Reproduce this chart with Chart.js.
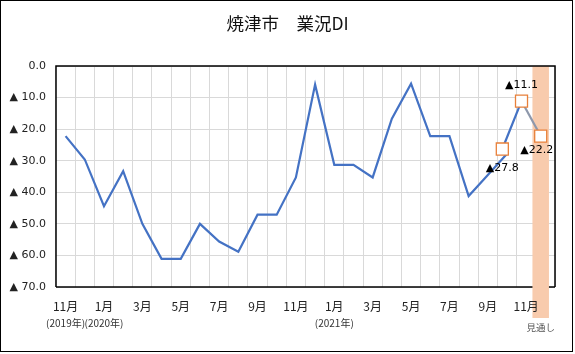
<!DOCTYPE html>
<html><head><meta charset="utf-8">
<script src="https://cdn.jsdelivr.net/npm/chart.js@4/dist/chart.umd.min.js"></script>
<style>html,body{margin:0;padding:0;background:#fff}#wrap{width:575px;height:354px;position:relative}</style>
</head><body><div id="wrap"><canvas id="c" width="575" height="354"></canvas></div>
<script>
// Categories: Nov 2019 .. Dec 2021 (Dec 2021 = forecast / 見通し)
const categories = ['11月','12月',
  '1月','2月','3月','4月','5月','6月','7月','8月','9月','10月','11月','12月',
  '1月','2月','3月','4月','5月','6月','7月','8月','9月','10月','11月','12月'];
const yearLabels = {0:'(2019年)', 2:'(2020年)', 14:'(2021年)'};
const forecastLabel = '見通し';
// 業況DI (negative values shown with ▲)
const businessDI = [-22.2,-29.6,-44.4,-33.3,-50.0,-61.1,-61.1,-50.0,-55.6,-58.8,-47.1,-47.1,-35.3,
  -5.9,-31.3,-31.3,-35.3,-16.7,-5.6,-22.2,-22.2,-41.2,-34.5,-27.8];
// recent points (Oct, Nov 2021 and Dec 2021 forecast)
const recentIndex = [23, 24, 25];
const recentDI = [-26.3, -11.1, -22.2];
const recentLabelValues = [-27.8, -11.1, -22.2];
const yMin = -70, yMax = 0, yStep = 10;

const fmt = v => v === 0 ? '0.0' : '▲ ' + Math.abs(v).toFixed(1);
const lblFmt = v => '▲' + Math.abs(v).toFixed(1);
const FONT = "'Meiryo','Noto Sans CJK JP',sans-serif";
const NUMFONT = "'DejaVu Sans','Noto Sans CJK JP',sans-serif";
Chart.defaults.font.family = FONT;
Chart.defaults.color = '#333';

const extras = {
  id: 'extras',
  beforeDraw(chart) {
    const {ctx, chartArea: a, scales: {x2}} = chart;
    const fi = categories.length - 1;
    const l = x2.getPixelForValue(fi - 0.43), r = x2.getPixelForValue(fi + 0.43);
    ctx.save();
    ctx.fillStyle = '#f8cbad';
    ctx.fillRect(l, a.bottom, r - l, 318 - a.bottom);
    ctx.restore();
  },
  beforeDatasetsDraw(chart) {
    const {ctx, chartArea: a, scales: {x2}} = chart;
    const fi = categories.length - 1;
    const l = x2.getPixelForValue(fi - 0.43), r = x2.getPixelForValue(fi + 0.43);
    ctx.save();
    ctx.strokeStyle = '#000'; ctx.lineWidth = 1.5;
    ctx.beginPath(); ctx.moveTo(a.left, a.bottom); ctx.lineTo(a.right, a.bottom); ctx.stroke();
    ctx.fillStyle = '#f8cbad';
    ctx.fillRect(l, a.top, r - l, a.bottom - a.top + 1);
    ctx.beginPath();
    ctx.moveTo(a.left, a.bottom); ctx.lineTo(a.left, a.top); ctx.lineTo(a.right, a.top); ctx.lineTo(a.right, a.bottom);
    ctx.stroke();
    ctx.restore();
  },
  afterDatasetsDraw(chart) {
    const {ctx} = chart;
    const meta = chart.getDatasetMeta(0);
    const offs = [[0, 19], [0, -16], [-4, 14]];
    ctx.save();
    ctx.font = '11px ' + NUMFONT; ctx.fillStyle = '#000';
    ctx.textAlign = 'center'; ctx.textBaseline = 'middle';
    meta.data.forEach((p, i) => {
      ctx.fillText(lblFmt(recentLabelValues[i]), p.x + offs[i][0], p.y + offs[i][1]);
    });
    ctx.restore();
  },
  afterDraw(chart) {
    const {ctx, scales: {x, x2}} = chart;
    ctx.save();
    ctx.fillStyle = '#333'; ctx.textAlign = 'center'; ctx.textBaseline = 'middle';
    ctx.font = '10px ' + FONT;
    Object.keys(yearLabels).forEach(k => {
      ctx.fillText(yearLabels[k], x.getPixelForValue(+k), 323);
    });
    ctx.font = '9.5px ' + FONT; ctx.fillStyle = '#555';
    ctx.fillText(forecastLabel, x2.getPixelForValue(categories.length - 1), 327);
    ctx.strokeStyle = '#000'; ctx.lineWidth = 1;
    ctx.strokeRect(0.5, 0.5, 572, 351);
    ctx.restore();
  }
};

new Chart(document.getElementById('c'), {
  type: 'line',
  data: {
    labels: categories,
    datasets: [
      {
        data: recentIndex.map((m, i) => ({x: m, y: recentDI[i]})),
        xAxisID: 'x2', order: 0,
        borderWidth: 2.2,
        segment: { borderColor: c => c.p0DataIndex === 0 ? '#4472c4' : '#8e98ab' },
        borderColor: '#4472c4',
        pointStyle: 'rect', pointRadius: 8.5, pointHoverRadius: 8.5,
        pointBackgroundColor: '#fff', pointBorderColor: '#e8803a', pointBorderWidth: 1.3,
        tension: 0
      },
      {
        data: businessDI, xAxisID: 'x', order: 1,
        borderColor: '#4472c4', borderWidth: 2.2, pointRadius: 0, tension: 0
      }
    ]
  },
  options: {
    responsive: false, animation: false,
    layout: { padding: 0 },
    plugins: {
      legend: { display: false }, tooltip: { enabled: false },
      title: { display: true, text: '焼津市　業況DI', color: '#111',
        font: { size: 17.5, weight: 'normal', family: FONT }, padding: { top: 13, bottom: 32 } }
    },
    scales: {
      x: {
        type: 'category', offset: true,
        grid: { offset: true, color: '#d9d9d9', drawTicks: false },
        border: { display: false },
        ticks: { autoSkip: false, maxRotation: 0, padding: 12, color: '#222',
          font: { size: 12 }, callback: (v, i) => i % 2 === 0 ? categories[i] : '' },
        afterFit: s => { s.height = 67; }
      },
      x2: { type: 'linear', display: false, min: -0.255, max: 25.745 },
      y: {
        min: yMin, max: yMax,
        grid: { color: '#d9d9d9', drawTicks: false },
        border: { display: false },
        ticks: { stepSize: yStep, padding: 10, color: '#222', font: { size: 11, family: NUMFONT }, callback: fmt },
        afterFit: s => { s.width = 56; }
      },
      yR: {
        position: 'right', display: true,
        grid: { display: false, drawTicks: false }, border: { display: false },
        ticks: { display: false },
        afterFit: s => { s.width = 20; }
      }
    }
  },
  plugins: [extras]
});
</script></body></html>
